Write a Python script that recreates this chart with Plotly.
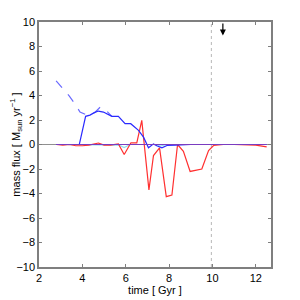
import plotly.graph_objects as go

# data
blue_x = [2.8, 3.2, 3.6, 3.86, 4.15, 4.35, 4.55, 4.74, 4.97, 5.15, 5.36, 5.66, 5.97, 6.23, 6.45, 6.59, 6.82, 7.05, 7.28, 7.43, 7.67, 7.9, 8.3, 9.0, 10.0, 11.0, 12.5]
blue_y = [0, 0, 0, 0, 2.3, 2.4, 2.6, 2.73, 2.65, 2.5, 2.3, 2.3, 1.7, 1.7, 1.4, 1.15, 0.6, -0.27, 0.05, -0.1, -0.27, -0.08, -0.05, 0, 0, 0, 0]

dash_x = [2.79, 3.1, 3.4, 3.7, 3.89, 4.15, 4.4, 4.6, 4.82, 4.97, 5.2, 5.36]
dash_y = [5.2, 4.6, 3.95, 3.2, 2.65, 2.45, 2.4, 2.65, 3.05, 3.0, 2.6, 2.3]

red_x = [2.8, 3.1, 3.4, 3.7, 4.0, 4.3, 4.74, 5.0, 5.3, 5.66, 5.93, 6.24, 6.51, 6.74, 7.07, 7.28, 7.56, 7.87, 8.13, 8.39, 8.66, 8.97, 9.51, 9.82, 10.05, 10.5, 11.0, 11.5, 12.0, 12.5]
red_y = [0, -0.05, 0, -0.1, -0.1, -0.05, 0.12, -0.05, -0.05, 0.05, -0.82, 0.14, 0.14, 1.97, -3.7, -0.9, -0.27, -4.26, -4.13, 0, -0.55, -2.2, -2.0, -0.5, -0.08, 0, 0, 0, -0.05, -0.2]

cyan_x = [2.8, 5.5, 5.7, 5.93, 6.2, 7.4, 7.6, 7.9, 12.5]
cyan_y = [0, 0, -0.05, -0.25, 0, 0, -0.12, 0, 0]

purple_x = [2.8, 12.5]
purple_y = [0, 0]

zero_x = [2, 12.7]
zero_y = [0, 0]

vline_x = [9.95, 9.95]
vline_y = [-10, 10]

arrow_x = 10.48
arrow_y_top = 10
arrow_y_tip = 8.9

x_ticks = [2, 4, 6, 8, 10, 12]
y_ticks = [-10, -8, -6, -4, -2, 0, 2, 4, 6, 8, 10]
y_tick_text = ["\u221210", "\u22128", "\u22126", "\u22124", "\u22122", "0", "2", "4", "6", "8", "10"]

fig = go.Figure()
fig.add_trace(go.Scatter(x=zero_x, y=zero_y, mode="lines", line=dict(color="#909090", width=1)))
fig.add_trace(go.Scatter(x=vline_x, y=vline_y, mode="lines", line=dict(color="#b8b8b8", width=1, dash="dot")))
fig.add_trace(go.Scatter(x=cyan_x, y=cyan_y, mode="lines", line=dict(color="#8fe0f0", width=1.2)))
fig.add_trace(go.Scatter(x=dash_x, y=dash_y, mode="lines", line=dict(color="#6a6aff", width=1.2, dash="dash")))
fig.add_trace(go.Scatter(x=red_x, y=red_y, mode="lines", line=dict(color="#ff3030", width=1.2)))
fig.add_trace(go.Scatter(x=blue_x, y=blue_y, mode="lines", line=dict(color="#2a2aff", width=1.2)))
fig.add_trace(go.Scatter(x=purple_x, y=purple_y, mode="lines", line=dict(color="#7a3cc0", width=1.2)))

fig.add_annotation(x=arrow_x, y=arrow_y_tip, ax=arrow_x, ay=arrow_y_top, xref="x", yref="y", axref="x", ayref="y",
                   showarrow=True, arrowhead=2, arrowsize=1, arrowwidth=1.2, arrowcolor="black", text="")

axis_common = dict(showline=True, linecolor="#7f7f7f", linewidth=1.5, mirror="ticks", ticks="inside",
                   ticklen=3, tickcolor="#7f7f7f", showgrid=False, zeroline=False, automargin=False,
                   tickfont=dict(family="Liberation Sans, Arial, sans-serif", size=11, color="black"))

fig.update_layout(
    width=292, height=292,
    margin=dict(l=31, r=29, t=14, b=33),
    paper_bgcolor="white", plot_bgcolor="white",
    showlegend=False,
    font=dict(family="Liberation Sans, Arial, sans-serif", size=11, color="black"),
    xaxis=dict(range=[2, 12.7], tickvals=x_ticks, ticktext=[str(v) for v in x_ticks],
               title=dict(text="time [ Gyr ]", standoff=0, font=dict(size=11)), **axis_common),
    yaxis=dict(range=[-10, 10], tickvals=y_ticks, ticktext=y_tick_text,
               title=dict(text="mass flux [ M<sub>sun</sub> yr<sup>\u22121</sup> ]", standoff=2, font=dict(size=11)), **axis_common),
)

fig.write_html("out.html")
